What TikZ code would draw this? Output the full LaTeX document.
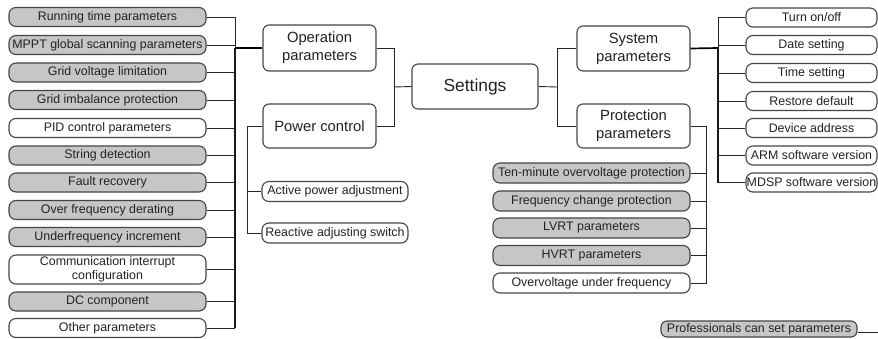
\documentclass[tikz,border=0pt]{standalone}
\usepackage{fontspec}
\setmainfont{Liberation Sans}
\definecolor{boxgray}{HTML}{C6C6C6}
\definecolor{edgegray}{HTML}{454545}
\definecolor{txt}{HTML}{222222}
\begin{document}
\begin{tikzpicture}[x=1pt,y=-1pt,
  box/.style={draw=edgegray,line width=1.1pt,rounded corners=6pt,inner sep=0pt,align=center,text=txt,font=\fontsize{12.4}{14.5}\selectfont},
  gbox/.style={box,fill=boxgray},
  wbox/.style={box,fill=white},
  leaf/.style={minimum width=197pt,minimum height=19pt,rounded corners=7pt},
  rleaf/.style={minimum width=131pt,minimum height=19pt,rounded corners=7pt},
  pleaf/.style={minimum width=146pt,minimum height=20pt,rounded corners=7pt},
  mid/.style={box,fill=white,minimum width=113pt,font=\fontsize{14.8}{18}\selectfont},
  conn/.style={draw=black!85,line width=0.9pt},
  tconn/.style={draw=black,line width=1.7pt},
  vconn/.style={draw=black!90,line width=1.3pt}]
\useasboundingbox (0,0) rectangle (878,338);
% left leaves
\node[gbox,leaf] (l1) at (107.5,17) {Running time parameters};
\node[gbox,leaf] (l2) at (107.5,45) {MPPT global scanning parameters};
\node[gbox,leaf] (l3) at (107.5,72.5) {Grid voltage limitation};
\node[gbox,leaf] (l4) at (107.5,100) {Grid imbalance protection};
\node[wbox,leaf] (l5) at (107.5,128) {PID control parameters};
\node[gbox,leaf] (l6) at (107.5,155.5) {String detection};
\node[gbox,leaf] (l7) at (107.5,182.5) {Fault recovery};
\node[gbox,leaf] (l8) at (107.5,210) {Over frequency derating};
\node[gbox,leaf] (l9) at (107.5,237) {Underfrequency increment};
\node[wbox,leaf,minimum height=29pt] (l10) at (107.5,269.5) {Communication interrupt\\configuration};
\node[gbox,leaf] (l11) at (107.5,301.5) {DC component};
\node[wbox,leaf] (l12) at (107.5,328) {Other parameters};
% middle
\node[mid,minimum height=46pt] (op) at (319.5,48) {Operation\\parameters};
\node[mid,minimum height=44pt] (pc) at (319.5,126) {Power control};
\node[box,fill=white,minimum width=126pt,minimum height=45pt,font=\fontsize{17.4}{20}\selectfont] (set) at (475,86.5) {Settings};
\node[mid,minimum height=45pt] (sys) at (633.5,48.5) {System\\parameters};
\node[mid,minimum height=44pt] (prot) at (633.5,126) {Protection\\parameters};
% power control leaves
\node[wbox,pleaf] (ap) at (335,191.5) {Active power adjustment};
\node[wbox,pleaf] (rs) at (335,233) {Reactive adjusting switch};
% protection leaves
\node[gbox,leaf,minimum height=20pt] (p1) at (591.5,173) {Ten-minute overvoltage protection};
\node[gbox,leaf,minimum height=20pt] (p2) at (591.5,201) {Frequency change protection};
\node[gbox,leaf,minimum height=20pt] (p3) at (591.5,228) {LVRT parameters};
\node[gbox,leaf,minimum height=20pt] (p4) at (591.5,255.5) {HVRT parameters};
\node[wbox,leaf,minimum height=20pt] (p5) at (591.5,283) {Overvoltage under frequency};
% system leaves
\node[wbox,rleaf] (s1) at (811.5,17.5) {Turn on/off};
\node[wbox,rleaf] (s2) at (811.5,45) {Date setting};
\node[wbox,rleaf] (s3) at (811.5,73) {Time setting};
\node[wbox,rleaf] (s4) at (811.5,101) {Restore default};
\node[wbox,rleaf] (s5) at (811.5,128) {Device address};
\node[wbox,rleaf] (s6) at (811.5,155.5) {ARM software version};
\node[wbox,rleaf] (s7) at (811.5,182.5) {MDSP software version};
% legend
\node[gbox,minimum width=196pt,minimum height=16pt,rounded corners=6pt] (pro) at (759,329) {Professionals can set parameters};
\coordinate (pe) at (878,332);
% junction coordinates
\coordinate (jl) at (235,48);
\coordinate (jm) at (394,87);
\coordinate (jp) at (247,126);
\coordinate (jr) at (557,87);
\coordinate (js) at (718,48);
\coordinate (jq) at (706,127);
% left connectors
\foreach \n in {l1,l2,l3,l4,l5,l6,l7,l8,l9,l10,l11,l12}
  \draw[conn] (\n.east) -- (\n.east -| jl);
\draw[conn] (l1.east -| jl) -- (jl);
\draw[vconn] (jl) -- (l12.east -| jl);
\draw[tconn] (op.west) -- (jl);
% middle connectors
\draw[conn] (op.east) -| (jm |- pc.east) -- (pc.east);
\draw[conn] (jm) -- (set.west);
\draw[conn] (set.east) -- (jr);
\draw[conn] (sys.west) -| (jr |- prot.west) -- (prot.west);
% power control
\draw[conn] (pc.west) -| (jp |- rs.west) -- (rs.west);
\draw[conn] (ap.west) -- (ap.west -| jp);
% system
\draw[tconn] (sys.east) -- (js);
\foreach \n in {s1,s2,s3,s4,s5,s6,s7}
  \draw[conn] (\n.west) -- (\n.west -| js);
\draw[conn] (s1.west -| js) -- (js);
\draw[vconn] (js) -- (s7.west -| js);
% protection
\draw[conn] (prot.east) -| (jq |- p5.east) -- (p5.east);
\foreach \n in {p1,p2,p3,p4}
  \draw[conn] (\n.east) -- (\n.east -| jq);
% legend line
\draw[conn] (pro.east |- pe) -- (pe);
\end{tikzpicture}
\end{document}
